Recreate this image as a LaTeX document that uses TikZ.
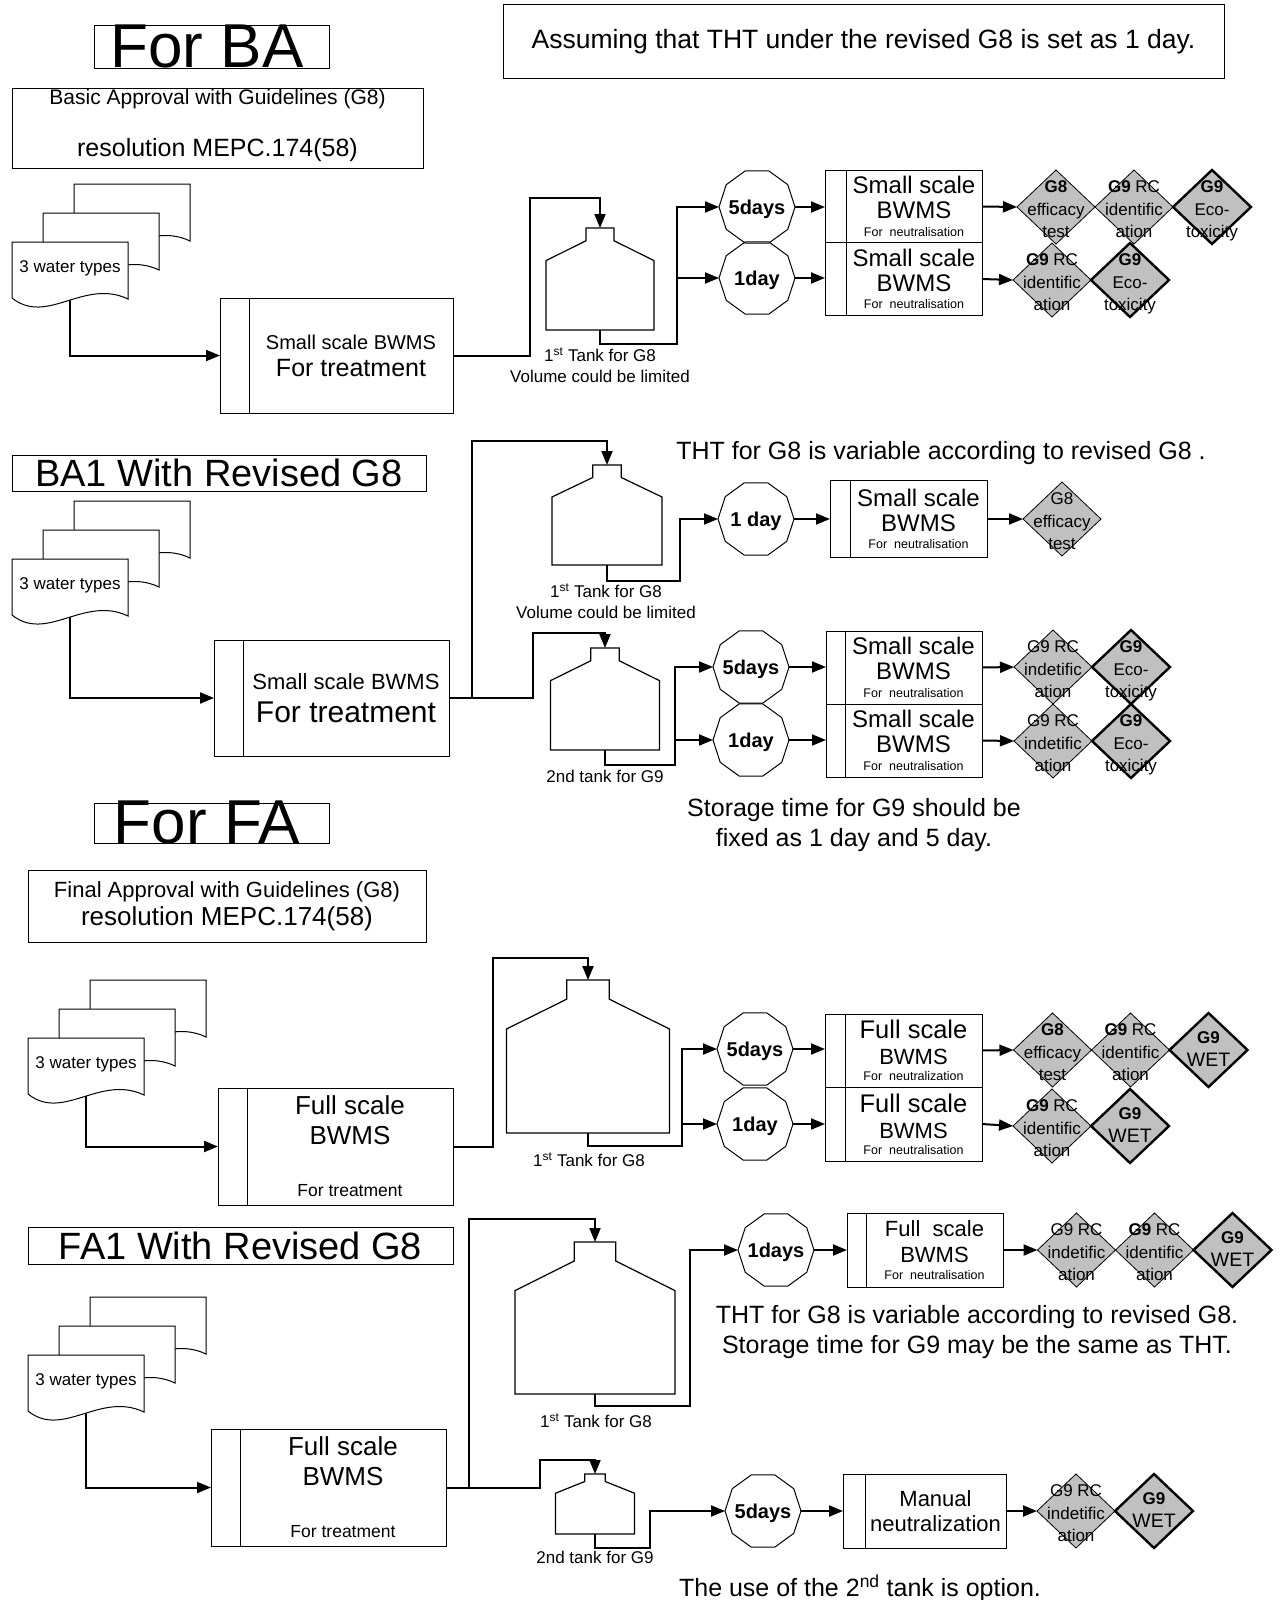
\documentclass[tikz,border=0pt]{standalone}
\usepackage{fontspec}
\setmainfont{Liberation Sans}
\usetikzlibrary{arrows.meta,positioning,shapes.geometric}

\definecolor{diagray}{RGB}{192,192,192}

% one sheet of the water stack, top left corner at #1,#2
\newcommand\wpage[2]{%
  \begin{scope}[shift={(#1,#2)}]
    \filldraw[fill=white, line width=1pt] (0,0) -- (116,0) -- (116,57)
      .. controls (72,36) and (35,84) .. (0,56) -- cycle;
  \end{scope}}
% three sheets, front sheet at #2,#3
\newcommand\wstack[3]{%
  \wpage{#2+62}{#3-58}
  \wpage{#2+31}{#3-29}
  \wpage{#2}{#3}
  \node[wtxt] (#1) at ({#2+58},{#3+30}) {3 water types};
  \coordinate (#1b) at ({#2+58},{#3+58});}
% tank: #1 name, neck top at #2,#3, width #4, height #5
\newcommand\tank[5]{%
  \begin{scope}[shift={(#2,#3)}, xscale=#4, yscale=#5]
    \draw[line width=1.2pt] (-0.13,0) -- (0.13,0) -- (0.13,0.125) -- (0.5,0.32)
      -- (0.5,1) -- (-0.5,1) -- (-0.5,0.32) -- (-0.13,0.125) -- cycle;
    \coordinate (#1t) at (0,0);
    \coordinate (#1b) at (0,1);
  \end{scope}}
% text of a test diamond
\newcommand\dtxt[3]{\smash{\raisebox{-8pt}{\makebox[0pt]{\begin{tabular}{@{}c@{}}#1\\#2\\#3\end{tabular}}}}}
\newcommand\dwet{\smash{\raisebox{-5pt}{\makebox[0pt]{\begin{tabular}{@{}c@{}}\textbf{G9}\\{\fontsize{19.5}{22}\selectfont WET}\end{tabular}}}}}
% text of a storage time decagon
\newcommand\dd[1]{\makebox[0pt]{\raisebox{-7pt}[0pt][0pt]{#1}}}
\newcommand\neut[1]{{\fontsize{12.5}{14}\selectfont For~~#1}}

\begin{document}
\begin{tikzpicture}[x=1pt, y=-1pt,
    every node/.style={inner sep=0pt, outer sep=0pt},
    conn/.style={line width=2pt, -{Triangle[length=14pt,width=11pt]}},
    wtxt/.style={anchor=base, font=\fontsize{17}{20}\selectfont},
    lbl/.style={font=\fontsize{17}{21}\selectfont, align=center},
    note/.style={font=\fontsize{25}{30}\selectfont, align=center},
    ttl/.style={draw, line width=1pt, font=\fontsize{38}{40}\selectfont},
    big/.style={font=\fontsize{62}{62}\selectfont},
    pbox/.style={draw, line width=1pt, align=center},
    pstrip/.style={draw, line width=1pt, minimum width=#1},
    dec/.style={draw, line width=1pt, regular polygon, regular polygon sides=10,
      minimum size=76, font=\bfseries\fontsize{20}{22}\selectfont},
    dia/.style={draw, diamond, fill=diagray, line width=0.8pt, minimum width=78,
      minimum height=74, font=\fontsize{17}{22.5}\selectfont},
    diab/.style={dia, line width=2.4pt}]
\useasboundingbox (0,0) rectangle (1279,1600);

% ---------- For BA
\node[draw, line width=1pt, minimum width=235, minimum height=43] (forba) at (211.5,47.5) {};
\node[big] (forbat) at (207,46.5) {For BA};
\node[draw, line width=1pt, minimum width=721, minimum height=74,
  font=\fontsize{26.5}{30}\selectfont] (assume) at (863.5,42)
  {Assuming that THT under the revised G8 is set as 1 day.};
\node[draw, line width=1pt, minimum width=411, minimum height=79] (bapp) at (217.5,128.5) {};
\node[anchor=base, font=\fontsize{21}{24}\selectfont] (bapp1) at (217.5,105) {Basic Approval with Guidelines (G8)};
\node[anchor=base, font=\fontsize{25}{28}\selectfont] (bapp2) at (217.5,157) {resolution MEPC.174(58)};

\wstack{wt1}{12}{242}
\node[pbox, minimum width=204, minimum height=115, font=\fontsize{20}{27}\selectfont] (tr1) at (351,355.5)
  {Small scale BWMS\\{\fontsize{25}{27}\selectfont For treatment}};
\node[pstrip=29, minimum height=115, left=0pt of tr1] (tr1s) {};
\draw[conn] (wt1b) |- (tr1s.west);

\tank{tk1}{600}{228}{108}{102}
\coordinate (b1) at (530,198);
\draw[conn] (tr1.east) -| (b1) -| (tk1t);
\node[lbl] (tk1l) at (600,365) {1\textsuperscript{st} Tank for G8\\Volume could be limited};

\node[dec] (d1a) at (757,207) {\dd{5days}};
\node[dec] (d1b) at (757,278) {\dd{1day}};
\coordinate (b2) at (677,344);
\draw[conn] (tk1b) |- (b2) |- (d1a.west);
\draw[conn] (b2) |- (d1b.west);

\node[pbox, minimum width=136, minimum height=72.5, font=\fontsize{24}{25}\selectfont] (n1a) at (914,206.5)
  {Small scale\\BWMS\\[-7.5pt]\neut{neutralisation}};
\node[pstrip=21, minimum height=72.5, left=0pt of n1a] (n1as) {};
\node[pbox, minimum width=136, minimum height=72.5, font=\fontsize{24}{25}\selectfont] (n1b) at (914,279)
  {Small scale\\BWMS\\[-7.5pt]\neut{neutralisation}};
\node[pstrip=21, minimum height=72.5, left=0pt of n1b] (n1bs) {};
\draw[conn] (d1a.east) -- (d1a.east -| n1as.west);
\draw[conn] (d1b.east) -- (d1b.east -| n1bs.west);

\node[dia] (g1a) at (1056,207) {\dtxt{\textbf{G8}}{efficacy}{test}};
\node[dia, right=0pt of g1a] (g1b) {\dtxt{\textbf{G9} RC}{identific}{ation}};
\node[diab, right=0pt of g1b] (g1c) {\dtxt{\textbf{G9}}{Eco-}{toxicity}};
\node[dia] (g1d) at (1052,280) {\dtxt{\textbf{G9} RC}{identific}{ation}};
\node[diab, right=0pt of g1d] (g1e) {\dtxt{\textbf{G9}}{Eco-}{toxicity}};
\draw[conn] (n1a.east) -- (g1a.west);
\draw[conn] (n1b.east) -- (g1d.west);

% ---------- BA1 with revised G8
\node[ttl, minimum width=414, minimum height=36] (ba1) at (219,473) {BA1 With Revised G8};
\node[note] (tht1) at (941,453) {THT for G8 is variable according to revised G8 .};

\wstack{wt2}{12}{559}
\node[pbox, minimum width=206, minimum height=116, font=\fontsize{22}{33}\selectfont] (tr2) at (346,698)
  {Small scale BWMS\\{\fontsize{30}{33}\selectfont For treatment}};
\node[pstrip=29, minimum height=116, left=0pt of tr2] (tr2s) {};
\draw[conn] (wt2b) |- (tr2s.west);

\tank{tk2}{607}{465}{110}{100}
\tank{tk3}{605}{648}{109}{102}
\coordinate (b3) at (472,441);
\coordinate (b4) at (533,633);
\draw[conn] (tr2.east) -| (b3) -| (tk2t);
\draw[conn] (tr2.east) -| (b4) -| (tk3t);
\node[lbl] (tk2l) at (606,601) {1\textsuperscript{st} Tank for G8\\Volume could be limited};
\node[lbl] (tk3l) at (605,776) {2nd tank for G9};

\node[dec] (d2a) at (756,519) {\dd{1 day}};
\coordinate (b5) at (680,581);
\draw[conn] (tk2b) |- (b5) |- (d2a.west);
\node[pbox, minimum width=137, minimum height=77, font=\fontsize{24}{25}\selectfont] (n2a) at (918.5,519)
  {Small scale\\BWMS\\[-7.5pt]\neut{neutralisation}};
\node[pstrip=20, minimum height=77, left=0pt of n2a] (n2as) {};
\draw[conn] (d2a.east) -- (d2a.east -| n2as.west);
\node[dia] (g2a) at (1062,519) {\dtxt{G8}{efficacy}{test}};
\draw[conn] (n2a.east) -- (g2a.west);

\node[dec] (d3a) at (751,667) {\dd{5days}};
\node[dec] (d3b) at (751,740) {\dd{1day}};
\coordinate (b6) at (675,765);
\draw[conn] (tk3b) |- (b6) |- (d3a.west);
\draw[conn] (b6) |- (d3b.west);
\node[pbox, minimum width=137, minimum height=73, font=\fontsize{24}{25}\selectfont] (n3a) at (913.5,667.5)
  {Small scale\\BWMS\\[-7.5pt]\neut{neutralisation}};
\node[pstrip=19, minimum height=73, left=0pt of n3a] (n3as) {};
\node[pbox, minimum width=137, minimum height=73, font=\fontsize{24}{25}\selectfont] (n3b) at (913.5,740.5)
  {Small scale\\BWMS\\[-7.5pt]\neut{neutralisation}};
\node[pstrip=19, minimum height=73, left=0pt of n3b] (n3bs) {};
\draw[conn] (d3a.east) -- (d3a.east -| n3as.west);
\draw[conn] (d3b.east) -- (d3b.east -| n3bs.west);

\node[dia] (g3a) at (1053,667) {\dtxt{G9 RC}{indetific}{ation}};
\node[diab, right=0pt of g3a] (g3b) {\dtxt{\textbf{G9}}{Eco-}{toxicity}};
\node[dia] (g3c) at (1053,741) {\dtxt{G9 RC}{indetific}{ation}};
\node[diab, right=0pt of g3c] (g3d) {\dtxt{\textbf{G9}}{Eco-}{toxicity}};
\draw[conn] (n3a.east) -- (g3a.west);
\draw[conn] (n3b.east) -- (g3c.west);
\node[note] (stor1) at (854,825) {Storage time for G9 should be\\fixed as 1 day and 5 day.};

% ---------- For FA
\node[draw, line width=1pt, minimum width=235, minimum height=40] (forfa) at (211.5,823) {};
\node[big] (forfat) at (207,822) {For FA};
\node[draw, line width=1pt, minimum width=398, minimum height=72, align=center,
  font=\fontsize{22}{28}\selectfont] (fapp) at (227,906)
  {Final Approval with Guidelines (G8)\\{\fontsize{26}{28}\selectfont resolution MEPC.174(58)}};

\wstack{wt3}{28}{1038}
\node[pbox, minimum width=206, minimum height=117, font=\fontsize{26}{30}\selectfont] (tr3) at (350,1146.5)
  {Full scale\\BWMS\\[22pt]{\fontsize{17.5}{20}\selectfont For treatment}};
\node[pstrip=29, minimum height=117, left=0pt of tr3] (tr3s) {};
\draw[conn] (wt3b) |- (tr3s.west);

\tank{tk4}{588}{980}{163}{153}
\coordinate (b7) at (493,958);
\draw[conn] (tr3.east) -| (b7) -| (tk4t);
\node[lbl] (tk4l) at (589,1160) {1\textsuperscript{st} Tank for G8};

\node[dec] (d4a) at (755,1049) {\dd{5days}};
\node[dec] (d4b) at (755,1124) {\dd{1day}};
\coordinate (b8) at (682,1146);
\draw[conn] (tk4b) |- (b8) |- (d4a.west);
\draw[conn] (b8) |- (d4b.west);
\node[pbox, minimum width=137, minimum height=73, font=\fontsize{22}{26}\selectfont] (n4a) at (913.5,1050.5)
  {{\fontsize{25.5}{26}\selectfont Full scale}\\BWMS\\[-10pt]\neut{neutralization}};
\node[pstrip=20, minimum height=73, left=0pt of n4a] (n4as) {};
\node[pbox, minimum width=137, minimum height=74, font=\fontsize{22}{26}\selectfont] (n4b) at (913.5,1124)
  {{\fontsize{25.5}{26}\selectfont Full scale}\\BWMS\\[-10pt]\neut{neutralisation}};
\node[pstrip=20, minimum height=74, left=0pt of n4b] (n4bs) {};
\draw[conn] (d4a.east) -- (d4a.east -| n4as.west);
\draw[conn] (d4b.east) -- (d4b.east -| n4bs.west);

\node[dia] (g4a) at (1052.5,1050) {\dtxt{\textbf{G8}}{efficacy}{test}};
\node[dia, right=0pt of g4a] (g4b) {\dtxt{\textbf{G9} RC}{identific}{ation}};
\node[diab, right=0pt of g4b] (g4c) {\dwet};
\node[dia] (g4d) at (1052,1126) {\dtxt{\textbf{G9} RC}{identific}{ation}};
\node[diab, right=0pt of g4d] (g4e) {\dwet};
\draw[conn] (n4a.east) -- (g4a.west);
\draw[conn] (n4b.east) -- (g4d.west);

% ---------- FA1 with revised G8
\node[ttl, minimum width=425, minimum height=37] (fa1) at (240.5,1245.5) {FA1 With Revised G8};

\wstack{wt4}{28}{1355}
\node[pbox, minimum width=206, minimum height=117, font=\fontsize{26}{30}\selectfont] (tr4) at (343,1487.5)
  {Full scale\\BWMS\\[22pt]{\fontsize{17.5}{20}\selectfont For treatment}};
\node[pstrip=29, minimum height=117, left=0pt of tr4] (tr4s) {};
\draw[conn] (wt4b) |- (tr4s.west);

\tank{tk5}{595}{1242}{160}{152}
\tank{tk6}{595}{1474}{79}{60}
\coordinate (b9) at (469,1219);
\coordinate (b10) at (540,1460);
\draw[conn] (tr4.east) -| (b9) -| (tk5t);
\draw[conn] (tr4.east) -| (b10) -| (tk6t);
\node[lbl] (tk5l) at (596,1421) {1\textsuperscript{st} Tank for G8};
\node[lbl] (tk6l) at (595,1557) {2nd tank for G9};

\node[dec] (d5a) at (776,1250) {\dd{1days}};
\coordinate (b11) at (690,1406);
\draw[conn] (tk5b) |- (b11) |- (d5a.west);
\node[pbox, minimum width=137, minimum height=74, font=\fontsize{22}{26}\selectfont] (n5a) at (934.5,1250)
  {Full~~scale\\BWMS\\[-9pt]\neut{neutralisation}};
\node[pstrip=19, minimum height=74, left=0pt of n5a] (n5as) {};
\draw[conn] (d5a.east) -- (d5a.east -| n5as.west);
\node[dia] (g5a) at (1076.5,1250) {\dtxt{G9 RC}{indetific}{ation}};
\node[dia, right=0pt of g5a] (g5b) {\dtxt{\textbf{G9} RC}{identific}{ation}};
\node[diab, right=0pt of g5b] (g5c) {\dwet};
\draw[conn] (n5a.east) -- (g5a.west);
\node[note] (tht2) at (977,1332.5) {THT for G8 is variable according to revised G8.\\Storage time for G9 may be the same as THT.};

\node[dec] (d6a) at (763,1511) {\dd{5days}};
\coordinate (b12) at (650,1548);
\draw[conn] (tk6b) |- (b12) |- (d6a.west);
\node[pbox, minimum width=141, minimum height=74, font=\fontsize{22}{25}\selectfont] (n6a) at (935.5,1511)
  {Manual\\neutralization};
\node[pstrip=22, minimum height=74, left=0pt of n6a] (n6as) {};
\draw[conn] (d6a.east) -- (d6a.east -| n6as.west);
\node[dia] (g6a) at (1076,1511) {\dtxt{G9 RC}{indetific}{ation}};
\node[diab, right=0pt of g6a] (g6b) {\dwet};
\draw[conn] (n6a.east) -- (g6a.west);
\node[note] (opt) at (860,1588) {The use of the 2\textsuperscript{nd} tank is option.};
\end{tikzpicture}
\end{document}
